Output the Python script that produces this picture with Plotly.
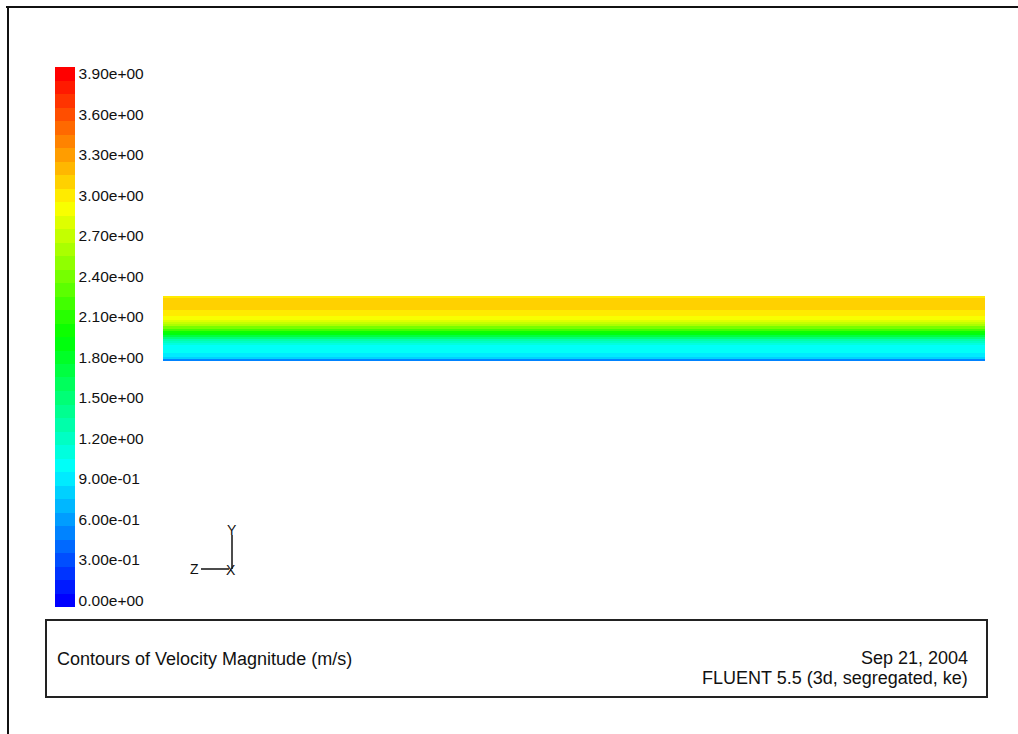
import colorsys
import plotly.graph_objects as go

W, H = 1018, 734

# ---- data ----
level_step = 0.1
level_min, level_max = 0.0, 3.9
tick_values = [0.0, 0.3, 0.6, 0.9, 1.2, 1.5, 1.8, 2.1, 2.4, 2.7, 3.0, 3.3, 3.6, 3.9]
tick_labels = ["0.00e+00", "3.00e-01", "6.00e-01", "9.00e-01", "1.20e+00", "1.50e+00",
               "1.80e+00", "2.10e+00", "2.40e+00", "2.70e+00", "3.00e+00", "3.30e+00",
               "3.60e+00", "3.90e+00"]
# velocity magnitude across the band, top row to bottom row
band_velocity = [3.0, 3.1, 3.1, 3.1, 3.1, 3.1, 3.1, 3.0, 3.0, 3.0, 2.9, 2.9, 2.8, 2.7,
                 2.6, 2.4, 2.2, 2.0, 1.9, 1.7, 1.5, 1.3, 1.2, 1.1, 1.0, 1.0, 1.0, 1.0,
                 0.9, 0.9, 0.8, 0.5]
title_text = "Contours of Velocity Magnitude (m/s)"
date_text = "Sep 21, 2004"
solver_text = "FLUENT 5.5 (3d, segregated, ke)"

# ---- discrete Fluent-style spectrum ----
n_levels = int(round((level_max - level_min) / level_step)) + 1
colorscale = []
for k in range(n_levels):
    hue = (240.0 * (1 - k / (n_levels - 1))) / 360.0
    r, g, b = colorsys.hsv_to_rgb(hue, 1.0, 1.0)
    c = "rgb(%d,%d,%d)" % (round(r * 255), round(g * 255), round(b * 255))
    colorscale.append([k / n_levels, c])
    colorscale.append([(k + 1) / n_levels, c])
zmin = level_min - level_step / 2
zmax = level_max + level_step / 2

def px(x):
    return x / W

def py(y):
    return 1 - y / H

fig = go.Figure()
fig.add_trace(go.Heatmap(
    z=[[v, v] for v in band_velocity],
    x=[0, 1],
    y=list(range(len(band_velocity))),
    colorscale=colorscale, zmin=zmin, zmax=zmax, zsmooth=False,
    hoverinfo="skip",
    colorbar=dict(
        x=px(55), xanchor="left", y=py(607), yanchor="bottom",
        len=540, lenmode="pixels", thickness=20, thicknessmode="pixels",
        xpad=0, ypad=0, outlinewidth=0, ticks="",
        tickvals=tick_values, ticktext=tick_labels,
        tickfont=dict(family="Liberation Sans, Arial", size=15.5, color="#111"),
    ),
))

fig.update_xaxes(domain=[px(163), px(985)], visible=False, showgrid=False)
fig.update_yaxes(domain=[py(361), py(296)], visible=False, showgrid=False, autorange="reversed")

line_black = dict(color="#111", width=2)
shapes = [
    dict(type="line", xref="paper", yref="paper", x0=px(6), x1=px(1018), y0=py(7), y1=py(7), line=line_black),
    dict(type="line", xref="paper", yref="paper", x0=px(8), x1=px(8), y0=py(7), y1=py(734), line=line_black),
    dict(type="rect", xref="paper", yref="paper", x0=px(46), x1=px(987), y0=py(620), y1=py(697),
         line=dict(color="#222", width=2)),
    dict(type="line", xref="paper", yref="paper", x0=px(232), x1=px(232), y0=py(535), y1=py(569),
         line=dict(color="#111", width=1.5)),
    dict(type="line", xref="paper", yref="paper", x0=px(201), x1=px(229), y0=py(569), y1=py(569),
         line=dict(color="#111", width=1.5)),
]
font = dict(family="Liberation Sans, Arial", size=18, color="#111")
small = dict(family="Liberation Sans, Arial", size=14, color="#111")
annotations = [
    dict(text=title_text, x=px(56), y=py(659), xanchor="left", yanchor="middle", font=font),
    dict(text=date_text, x=px(969), y=py(658), xanchor="right", yanchor="middle", font=font),
    dict(text=solver_text, x=px(969), y=py(678), xanchor="right", yanchor="middle", font=font),
    dict(text="Y", x=px(232), y=py(530), xanchor="center", yanchor="middle", font=small),
    dict(text="Z", x=px(194), y=py(569), xanchor="center", yanchor="middle", font=small),
    dict(text="X", x=px(231), y=py(570), xanchor="center", yanchor="middle", font=small),
]
for a in annotations:
    a.update(xref="paper", yref="paper", showarrow=False, borderpad=0)

fig.update_layout(
    width=W, height=H,
    margin=dict(l=0, r=0, t=0, b=0, pad=0, autoexpand=False),
    paper_bgcolor="white", plot_bgcolor="white",
    shapes=shapes, annotations=annotations,
    showlegend=False,
)
fig.write_html("out.html")
